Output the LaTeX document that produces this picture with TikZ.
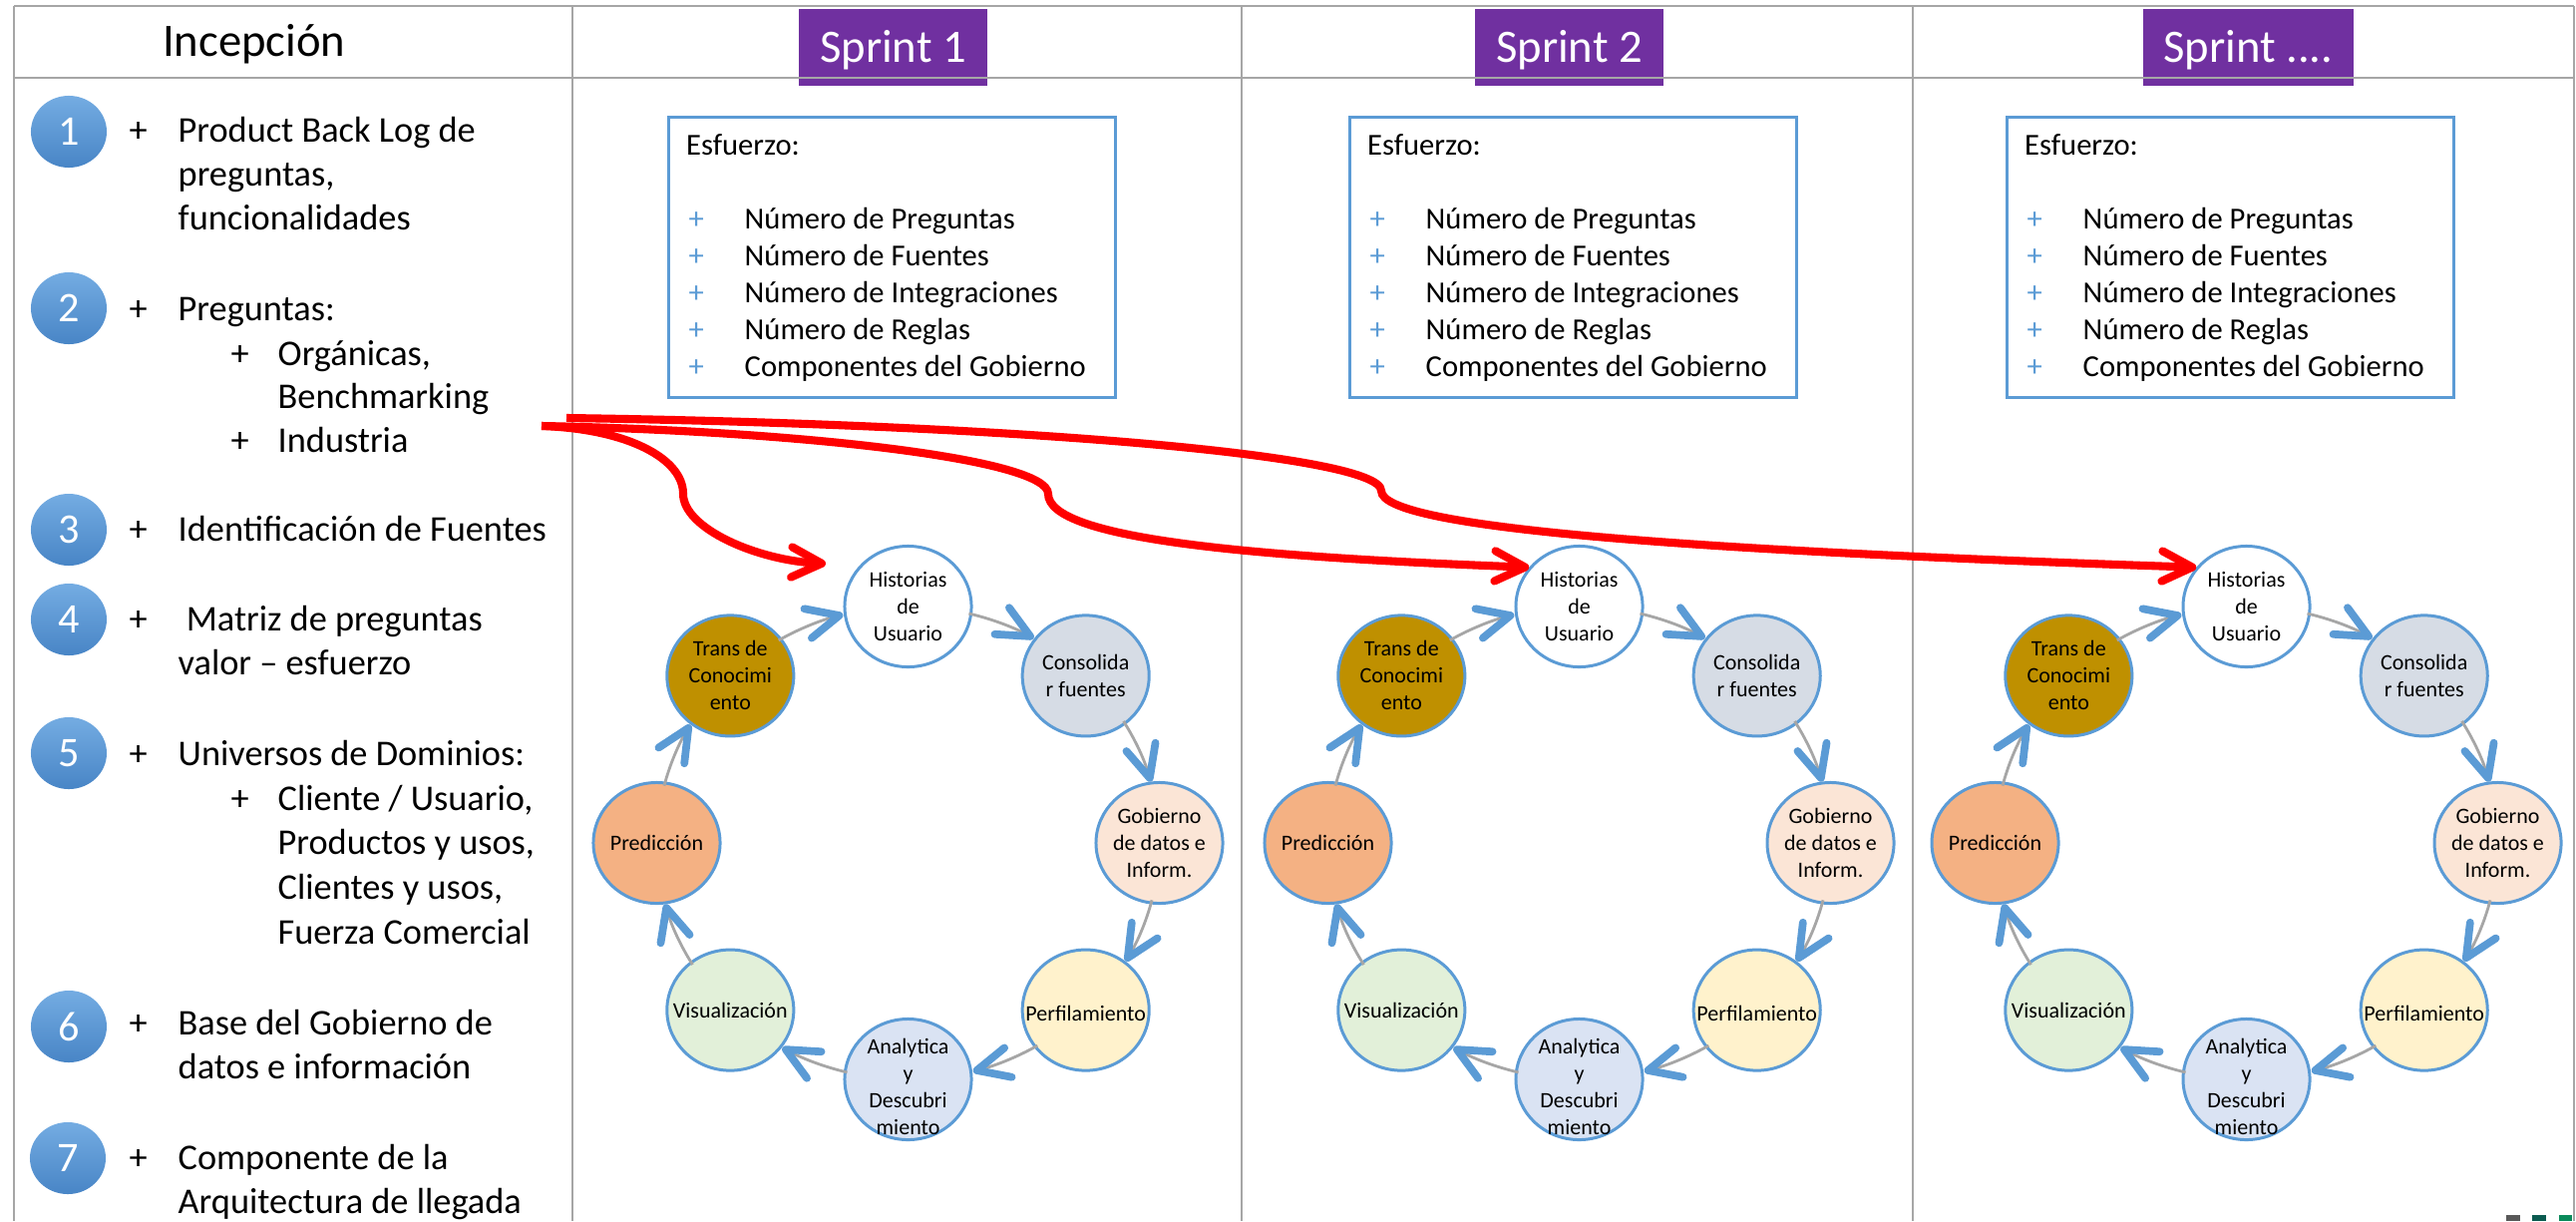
\documentclass[tikz,border=0pt]{standalone}
\usepackage{fontspec}
\setmainfont{Carlito}
\usetikzlibrary{arrows.meta,shapes.geometric,calc}

\definecolor{gridgray}{HTML}{A6A6A6}
\definecolor{sprintpurple}{HTML}{7030A0}
\definecolor{accentblue}{HTML}{5B9BD5}
\definecolor{linkgray}{HTML}{A6A6A6}
\definecolor{ballTop}{HTML}{74ACE2}
\definecolor{ballBot}{HTML}{4885C6}
\definecolor{fillA}{HTML}{D6DCE5}
\definecolor{fillB}{HTML}{FBE5D6}
\definecolor{fillC}{HTML}{FFF2CC}
\definecolor{fillD}{HTML}{DAE3F3}
\definecolor{fillE}{HTML}{E2F0D9}
\definecolor{fillF}{HTML}{F4B183}
\definecolor{fillG}{HTML}{BF9000}
\definecolor{logoGray}{HTML}{595959}
\definecolor{logoTeal}{HTML}{0B5B50}
\definecolor{logoGreen}{HTML}{0A8A5A}

% stack of text lines, one node per line: name, x, first baseline, step, lines
\newcommand\textstack[5]{%
  \foreach \lineText [count=\k from 0] in {#5}{%
    \node[itemline] (#1-\k) at (#2,{#3+\k*#4}) {\lineText};}}

\begin{document}
\begin{tikzpicture}[x=0.01cm, y=-0.01cm,
  gridline/.style={draw=gridgray, line width=0.55pt},
  headtext/.style={anchor=base west, inner sep=0pt, font=\fontsize{13.26}{16}\selectfont},
  itemline/.style={anchor=base west, inner sep=0pt, font=\fontsize{10.33}{12.4}\selectfont},
  numball/.style={ellipse, minimum width=0.76cm, minimum height=0.72cm, inner sep=0pt,
    top color=ballTop, bottom color=ballBot, draw=none, text=white,
    font=\fontsize{12}{14}\selectfont},
  sprintbox/.style={fill=sprintpurple, text=white, inner sep=0pt, minimum height=0.77cm,
    text height=8.54pt, text depth=0pt, font=\fontsize{13.26}{16}\selectfont},
  effortbox/.style={draw=accentblue, line width=0.8pt, fill=white, anchor=north west,
    minimum width=4.48cm, minimum height=2.81cm, inner sep=0pt},
  effortline/.style={anchor=base west, inner sep=0pt, font=\fontsize{8.7}{10.5}\selectfont},
  cyc/.style={ellipse, draw=accentblue, line width=0.85pt, minimum width=1.27cm,
    minimum height=1.21cm, inner sep=0pt},
  cyctext/.style={align=center, inner sep=0pt, font=\fontsize{6.26}{7.68}\selectfont},
  link/.style={draw=linkgray, line width=0.8pt,
    -{Straight Barb[color=accentblue, length=9.2pt, width=8.6pt, line width=2.2pt 0 1, round]}},
  redarrow/.style={draw=red, line width=2.3pt,
    -{Straight Barb[length=8.6pt, width=8.6pt, round]}}
]
\useasboundingbox (0,0) rectangle (2583,1224);

% sprint header tabs
\node[sprintbox, minimum width=1.89cm] (h1) at (895.5,47.5) {Sprint 1};
\node[sprintbox, minimum width=1.89cm] (h2) at (1573.5,47.5) {Sprint 2};
\node[sprintbox, minimum width=2.11cm] (h3) at (2254.5,47.5) {Sprint ....};

% table grid
\draw[gridline] (14,6) -- (2581,6);
\draw[gridline] (14,78) -- (2581,78);
\foreach \gx in {14,574,1245,1918,2581}{\draw[gridline] (\gx,6) -- (\gx,1224);}

% inception column
\node[headtext] (inc) at (162.5,56) {Incepción};

\node[numball] (b1) at (69,132) {1};
\node[numball] (b2) at (69,309) {2};
\node[numball] (b3) at (69,531) {3};
\node[numball] (b4) at (69,621) {4};
\node[numball] (b5) at (69,755) {5};
\node[numball] (b6) at (69,1029) {6};
\node[numball] (b7) at (68,1161) {7};

\foreach \py [count=\i] in {142,321,542,632,767,1037,1172}{\node[itemline] (pl\i) at (129,\py) {+};}
\foreach \py [count=\i] in {366,453,812}{\node[itemline] (ps\i) at (231,\py) {+};}

\textstack{t1}{178}{142}{44}{Product Back Log de, {preguntas,}, funcionalidades}
\textstack{t2}{178}{321}{44}{Preguntas:}
\textstack{t2a}{278}{366}{43.5}{{Orgánicas,}, Benchmarking}
\textstack{t2b}{278}{453}{44}{Industria}
\textstack{t3}{178}{542}{44}{Identificación de Fuentes}
\textstack{t4}{178}{632}{44}{\ Matriz de preguntas, valor – esfuerzo}
\textstack{t5}{178}{767}{44}{Universos de Dominios:}
\textstack{t5a}{278}{812}{44.7}{{Cliente / Usuario,}, {Productos y usos,}, {Clientes y usos,}, Fuerza Comercial}
\textstack{t6}{178}{1037}{44}{Base del Gobierno de, datos e información}
\textstack{t7}{178}{1172}{44}{Componente de la, Arquitectura de llegada}

% effort boxes and cycles of each sprint
\foreach \s/\ex/\cx in {1/669/910.5, 2/1352/1583.5, 3/2011/2252.5}{
  \node[effortbox] (e\s) at (\ex,116) {};
  \node[effortline] (e\s-h) at ($(e\s.north west)+(18.5,39)$) {Esfuerzo:};
  \foreach \lineText [count=\k from 0] in {Número de Preguntas, Número de Fuentes,
      Número de Integraciones, Número de Reglas, Componentes del Gobierno}{
    \node[effortline, text=accentblue] (e\s-p\k) at ($(e\s.north west)+(21,{113+\k*37})$) {+};
    \node[effortline] (e\s-t\k) at ($(e\s.north west)+(77,{113+\k*37})$) {\lineText};
  }
  \coordinate (c\s) at (\cx,845);
  \foreach \k/\fc/\dy/\txt in {0/white/0/{Historias\\de\\Usuario}, 1/fillA/0/{Consolida\\r fuentes},
      2/fillB/0/{Gobierno\\de datos e\\Inform.}, 3/fillC/-1/{Perfilamiento},
      4/fillD/-2/{Analytica\\y\\Descubri\\miento}, 5/fillE/0/{Visualización},
      6/fillF/0/{Predicción}, 7/fillG/0/{Trans de\\Conocimi\\ento}}{
    \node[cyc, fill=\fc] (n\s-\k) at ($(c\s)+({\k*45-90}:252 and 237)$) {};
    \node[cyctext, yshift=\dy pt] (l\s-\k) at (n\s-\k) {\txt};
  }
  \foreach \k in {0,...,7}{
    \draw[link] (c\s) ++({\k*45-76}:252 and 237)
      arc[start angle={\k*45-76}, end angle={\k*45-60}, x radius=252, y radius=237];
  }
}

% red arrows from the question list into every sprint
\coordinate (rs) at (543,427);
\coordinate (rs2) at (568,419);
\coordinate (r1end) at (828,565);
\draw[redarrow] (rs) .. controls (630,430) and (685,460) .. (685,495)
  .. controls (685,530) and (760,562) .. (r1end);
\draw[redarrow] (rs) .. controls (800,432) and (1051,460) .. (1051,495)
  .. controls (1051,540) and (1250,558) .. (n2-0.142);
\draw[redarrow] (rs2) .. controls (1000,425) and (1385,455) .. (1385,492)
  .. controls (1385,530) and (1700,552) .. (n3-0.142);

% logo squares at the lower edge
\fill[logoGray] (2513,1218) rectangle (2527,1224);
\fill[logoTeal] (2539,1218) rectangle (2553,1224);
\fill[logoGreen] (2566,1218) rectangle (2579,1224);
\end{tikzpicture}
\end{document}
